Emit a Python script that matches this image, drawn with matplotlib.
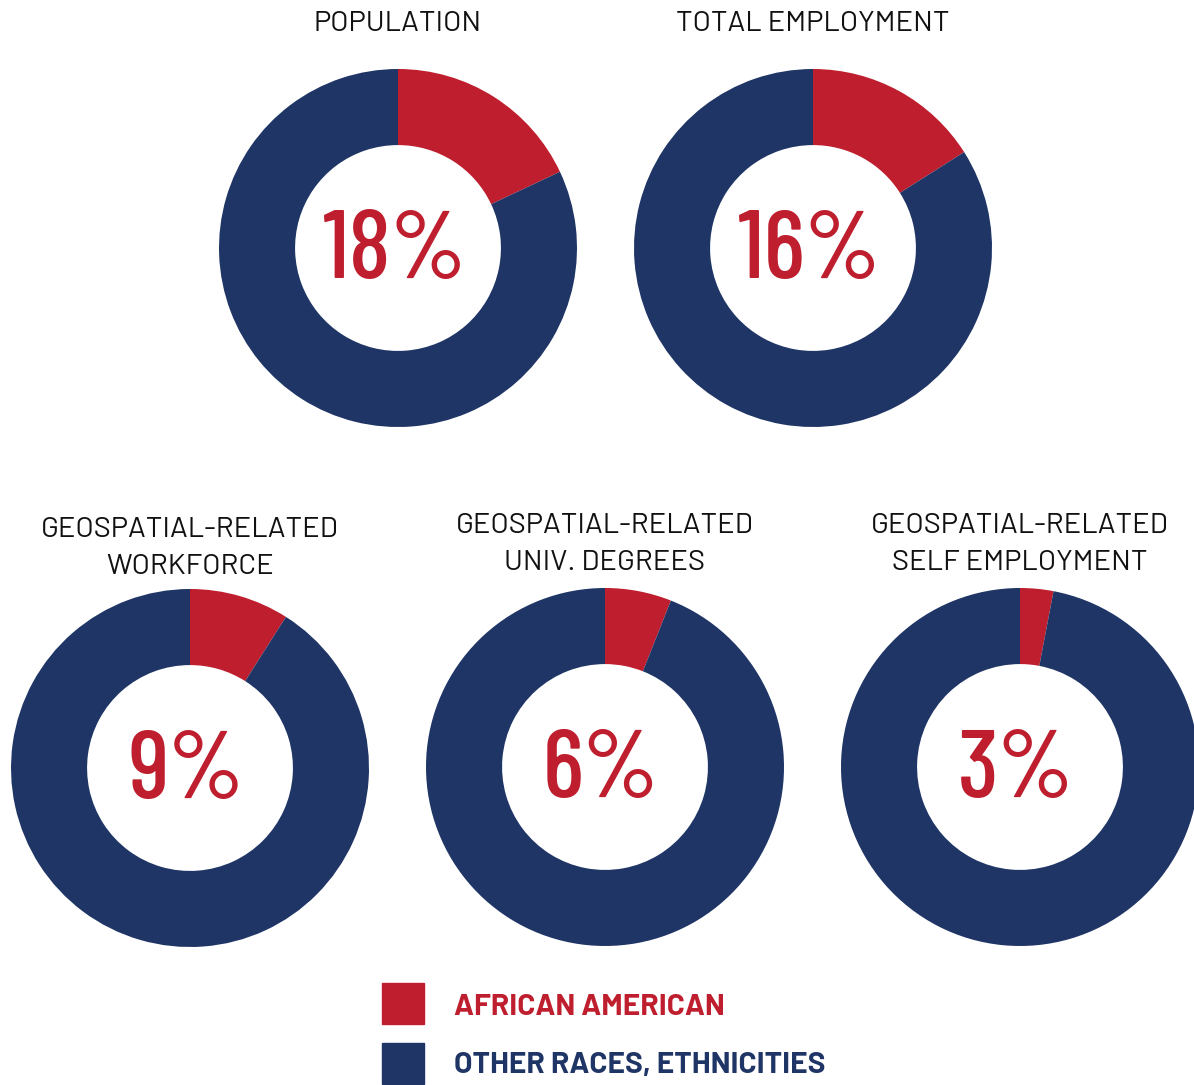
import matplotlib.pyplot as plt
from matplotlib.patches import Rectangle

W, H = 1194, 1085

titles = ["POPULATION", "TOTAL EMPLOYMENT",
          "GEOSPATIAL-RELATED\nWORKFORCE",
          "GEOSPATIAL-RELATED\nUNIV. DEGREES",
          "GEOSPATIAL-RELATED\nSELF EMPLOYMENT"]
african_american = [18, 16, 9, 6, 3]
legend_labels = ["AFRICAN AMERICAN", "OTHER RACES, ETHNICITIES"]

RED = "#BE1E2D"
NAVY = "#1F3566"

# layout in pixels
centers = [(398, 248), (813, 248), (190, 768), (605, 767), (1020, 767)]
title_base = [31, 31, 537, 533, 533]
R = 179

def fx(x):
    return x / W

def fy(y):
    return 1 - y / H

fig = plt.figure(figsize=(W / 100, H / 100), dpi=100)

for i, (cx, cy) in enumerate(centers):
    ax = fig.add_axes([fx(cx - R), fy(cy + R), 2 * R / W, 2 * R / H])
    p = african_american[i]
    ax.pie([p, 100 - p], colors=[RED, NAVY], startangle=90, counterclock=False,
           radius=1, wedgeprops=dict(width=0.425, linewidth=0))
    ax.set_xlim(-1, 1)
    ax.set_ylim(-1, 1)
    ax.set_aspect('equal')
    ax.axis('off')

    # percentage in the hole
    fig.text(fx(cx - 4), fy(cy + 30), f"{p}%", color=RED, fontsize=70,
             family='Barlow Condensed', fontweight=500, ha='center', va='baseline')

    # title lines
    lines = titles[i].split("\n")
    for j, line in enumerate(lines):
        fig.text(fx(cx), fy(title_base[i] + 37 * j), line, color='#111111',
                 fontsize=21, family='Barlow', fontweight=400,
                 ha='center', va='baseline')

# legend
for k, (lab, col) in enumerate(zip(legend_labels, [RED, NAVY])):
    y0 = 983 + 60 * k
    fig.patches.append(Rectangle((fx(382), fy(y0 + 41)), 42 / W, 41 / H,
                                 transform=fig.transFigure, color=col))
    fig.text(fx(454), fy(1015 + 58 * k), lab, color=col, fontsize=21.5,
             family='Barlow', fontweight=700, ha='left', va='baseline')

fig.savefig("out.png", dpi=100)
